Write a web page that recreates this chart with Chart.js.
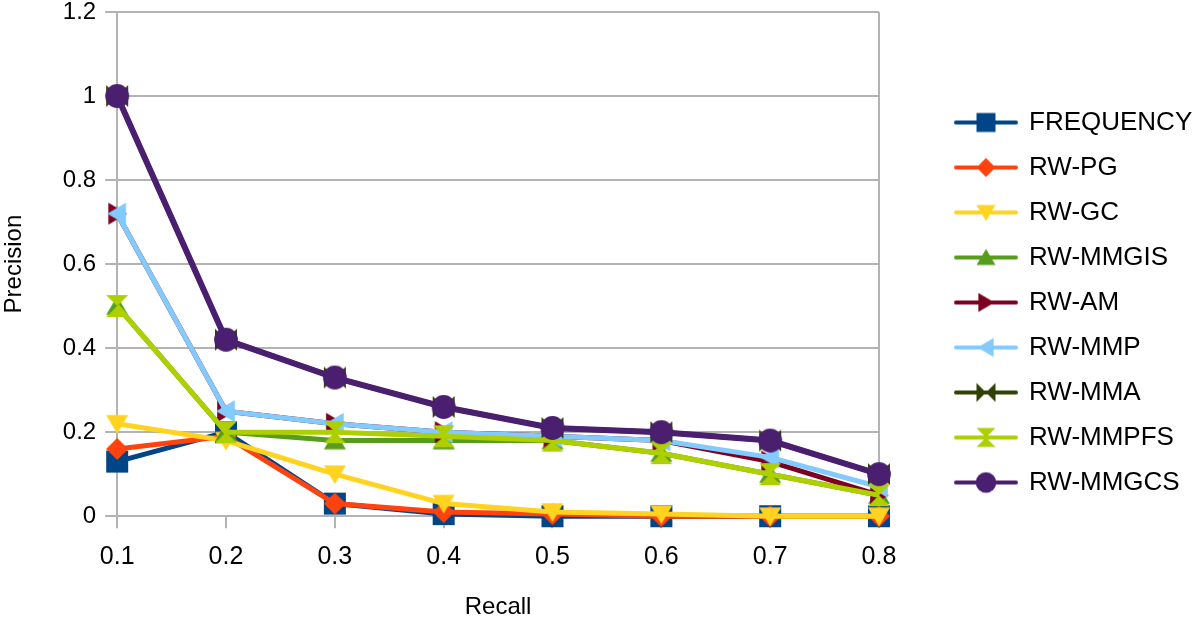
<!DOCTYPE html>
<html>
<head>
<meta charset="utf-8">
<script src="https://cdn.jsdelivr.net/npm/chart.js@4.4.0/dist/chart.umd.min.js"></script>
<style>
  html, body { margin: 0; padding: 0; background: #fff; }
  #wrap { width: 1200px; height: 622px; }
</style>
</head>
<body>
<div id="wrap"><canvas id="chart"></canvas></div>
<script>
const recall = ['0.1', '0.2', '0.3', '0.4', '0.5', '0.6', '0.7', '0.8']
const precisionTicks = ['0', '0.2', '0.4', '0.6', '0.8', '1', '1.2']

const frequency = [0.13, 0.2, 0.03, 0.005, 0, 0, 0, 0]
const rwPg = [0.16, 0.19, 0.03, 0.01, 0.005, 0, 0, 0]
const rwGc = [0.22, 0.18, 0.1, 0.03, 0.01, 0.005, 0, 0]
const rwMmgis = [0.5, 0.2, 0.18, 0.18, 0.18, 0.15, 0.1, 0.05]
const rwAm = [0.72, 0.25, 0.22, 0.2, 0.19, 0.18, 0.13, 0.05]
const rwMmp = [0.72, 0.25, 0.22, 0.2, 0.19, 0.18, 0.14, 0.07]
const rwMma = [1.0, 0.42, 0.33, 0.26, 0.21, 0.2, 0.18, 0.1]
const rwMmpfs = [0.5, 0.2, 0.2, 0.19, 0.18, 0.15, 0.1, 0.05]
const rwMmgcs = [1.0, 0.42, 0.33, 0.26, 0.21, 0.2, 0.18, 0.1]

const series = [
  { label: 'FREQUENCY', data: frequency, color: '#004586', shape: 'square' },
  { label: 'RW-PG', data: rwPg, color: '#ff420e', shape: 'diamond' },
  { label: 'RW-GC', data: rwGc, color: '#ffd320', shape: 'down' },
  { label: 'RW-MMGIS', data: rwMmgis, color: '#579d1c', shape: 'up' },
  { label: 'RW-AM', data: rwAm, color: '#7e0021', shape: 'right' },
  { label: 'RW-MMP', data: rwMmp, color: '#83caff', shape: 'left' },
  { label: 'RW-MMA', data: rwMma, color: '#314004', shape: 'bowtie' },
  { label: 'RW-MMPFS', data: rwMmpfs, color: '#aecf00', shape: 'hourglass' },
  { label: 'RW-MMGCS', data: rwMmgcs, color: '#4b1f6f', shape: 'circle' }
]

const FONT = 'Liberation Sans, Arial, sans-serif'
const GRID = '#b3b3b3'

// marker shapes in the LibreOffice style
function shapePath(ctx, shape, cx, cy, s) {
  ctx.beginPath()
  switch (shape) {
    case 'square':
      ctx.rect(cx - s, cy - s, 2 * s, 2 * s)
      break
    case 'diamond':
      ctx.moveTo(cx, cy - s); ctx.lineTo(cx + s, cy); ctx.lineTo(cx, cy + s); ctx.lineTo(cx - s, cy)
      break
    case 'down':
      ctx.moveTo(cx - s, cy - s * 0.8); ctx.lineTo(cx + s, cy - s * 0.8); ctx.lineTo(cx, cy + s * 0.9)
      break
    case 'up':
      ctx.moveTo(cx - s, cy + s * 0.8); ctx.lineTo(cx + s, cy + s * 0.8); ctx.lineTo(cx, cy - s * 0.9)
      break
    case 'right':
      ctx.moveTo(cx - s * 0.8, cy - s); ctx.lineTo(cx - s * 0.8, cy + s); ctx.lineTo(cx + s * 0.9, cy)
      break
    case 'left':
      ctx.moveTo(cx + s * 0.8, cy - s); ctx.lineTo(cx + s * 0.8, cy + s); ctx.lineTo(cx - s * 0.9, cy)
      break
    case 'bowtie':
      ctx.moveTo(cx - s, cy - s); ctx.lineTo(cx - s, cy + s); ctx.lineTo(cx + s, cy - s); ctx.lineTo(cx + s, cy + s)
      break
    case 'hourglass':
      ctx.moveTo(cx - s, cy - s); ctx.lineTo(cx + s, cy - s); ctx.lineTo(cx - s, cy + s); ctx.lineTo(cx + s, cy + s)
      break
    default:
      ctx.arc(cx, cy, s * 1.08, 0, Math.PI * 2)
  }
  ctx.closePath()
  ctx.fill()
}

function makeMarker(shape, color, s) {
  const c = document.createElement('canvas')
  c.width = c.height = Math.ceil(s * 2 + 4)
  const ctx = c.getContext('2d')
  ctx.fillStyle = color
  shapePath(ctx, shape, c.width / 2, c.height / 2, s)
  return c
}

function makeLegendIcon(shape, color) {
  const c = document.createElement('canvas')
  c.width = 66
  c.height = 26
  const ctx = c.getContext('2d')
  ctx.strokeStyle = color
  ctx.lineWidth = 4
  ctx.lineCap = 'round'
  ctx.beginPath()
  ctx.moveTo(3, 13)
  ctx.lineTo(63, 13)
  ctx.stroke()
  ctx.fillStyle = color
  shapePath(ctx, shape, 33, 13, 9.5)
  return c
}

const legendIcons = series.map(s => makeLegendIcon(s.shape, s.color))

const datasets = series.map((s, i) => ({
  label: s.label,
  data: s.data,
  borderColor: s.color,
  backgroundColor: s.color,
  borderWidth: s.shape === 'circle' ? 6 : 5,
  pointStyle: makeMarker(s.shape, s.color, 11),
  pointRadius: 11,
  tension: 0,
  clip: false,
  order: series.length - i
}))

new Chart(document.getElementById('chart'), {
  type: 'line',
  data: { labels: recall, datasets },
  options: {
    responsive: true,
    maintainAspectRatio: false,
    animation: false,
    events: [],
    layout: { padding: { top: -17, left: 0, right: 0, bottom: 0 }, autoPadding: false },
    plugins: {
      tooltip: { enabled: false },
      legend: {
        position: 'right',
        maxWidth: 263,
        labels: {
          usePointStyle: true,
          pointStyleWidth: 60,
          boxHeight: 26,
          padding: 19,
          color: '#000',
          font: { size: 26, family: FONT },
          sort: (a, b) => a.datasetIndex - b.datasetIndex,
          generateLabels: chart => chart.data.datasets.map((ds, i) => ({
            text: ds.label,
            datasetIndex: i,
            pointStyle: legendIcons[i],
            fillStyle: ds.borderColor,
            strokeStyle: ds.borderColor,
            lineWidth: 0,
            hidden: false,
            fontColor: '#000'
          }))
        }
      }
    },
    scales: {
      x: {
        offset: false,
        grid: {
          color: ctx => (ctx.index === recall.length - 1 ? GRID : 'rgba(0,0,0,0)'),
          tickColor: GRID,
          tickLength: 12,
          lineWidth: 2
        },
        border: { color: GRID, width: 2 },
        ticks: { color: '#000', font: { size: 25, family: FONT }, padding: 14 },
        title: { display: true, text: 'Recall', color: '#000', font: { size: 24, family: FONT }, padding: { top: 7, bottom: 0 } }
      },
      y: {
        min: 0,
        max: 1.2,
        ticks: {
          stepSize: 0.2,
          color: '#000',
          font: { size: 24, family: FONT },
          padding: 9,
          callback: (v, i) => precisionTicks[i]
        },
        grid: { color: GRID, tickColor: GRID, tickLength: 12, lineWidth: 2 },
        border: { color: GRID, width: 2 },
        title: { display: true, text: 'Precision', color: '#000', font: { size: 24, family: FONT }, padding: { top: 0, bottom: 25 } },
        afterFit: s => { s.paddingTop = 12 }
      },
      gap: {
        position: 'right',
        grid: { display: false },
        border: { display: false },
        ticks: { display: false },
        afterFit: s => { s.width = 58 }
      }
    }
  }
})
</script>
</body>
</html>
